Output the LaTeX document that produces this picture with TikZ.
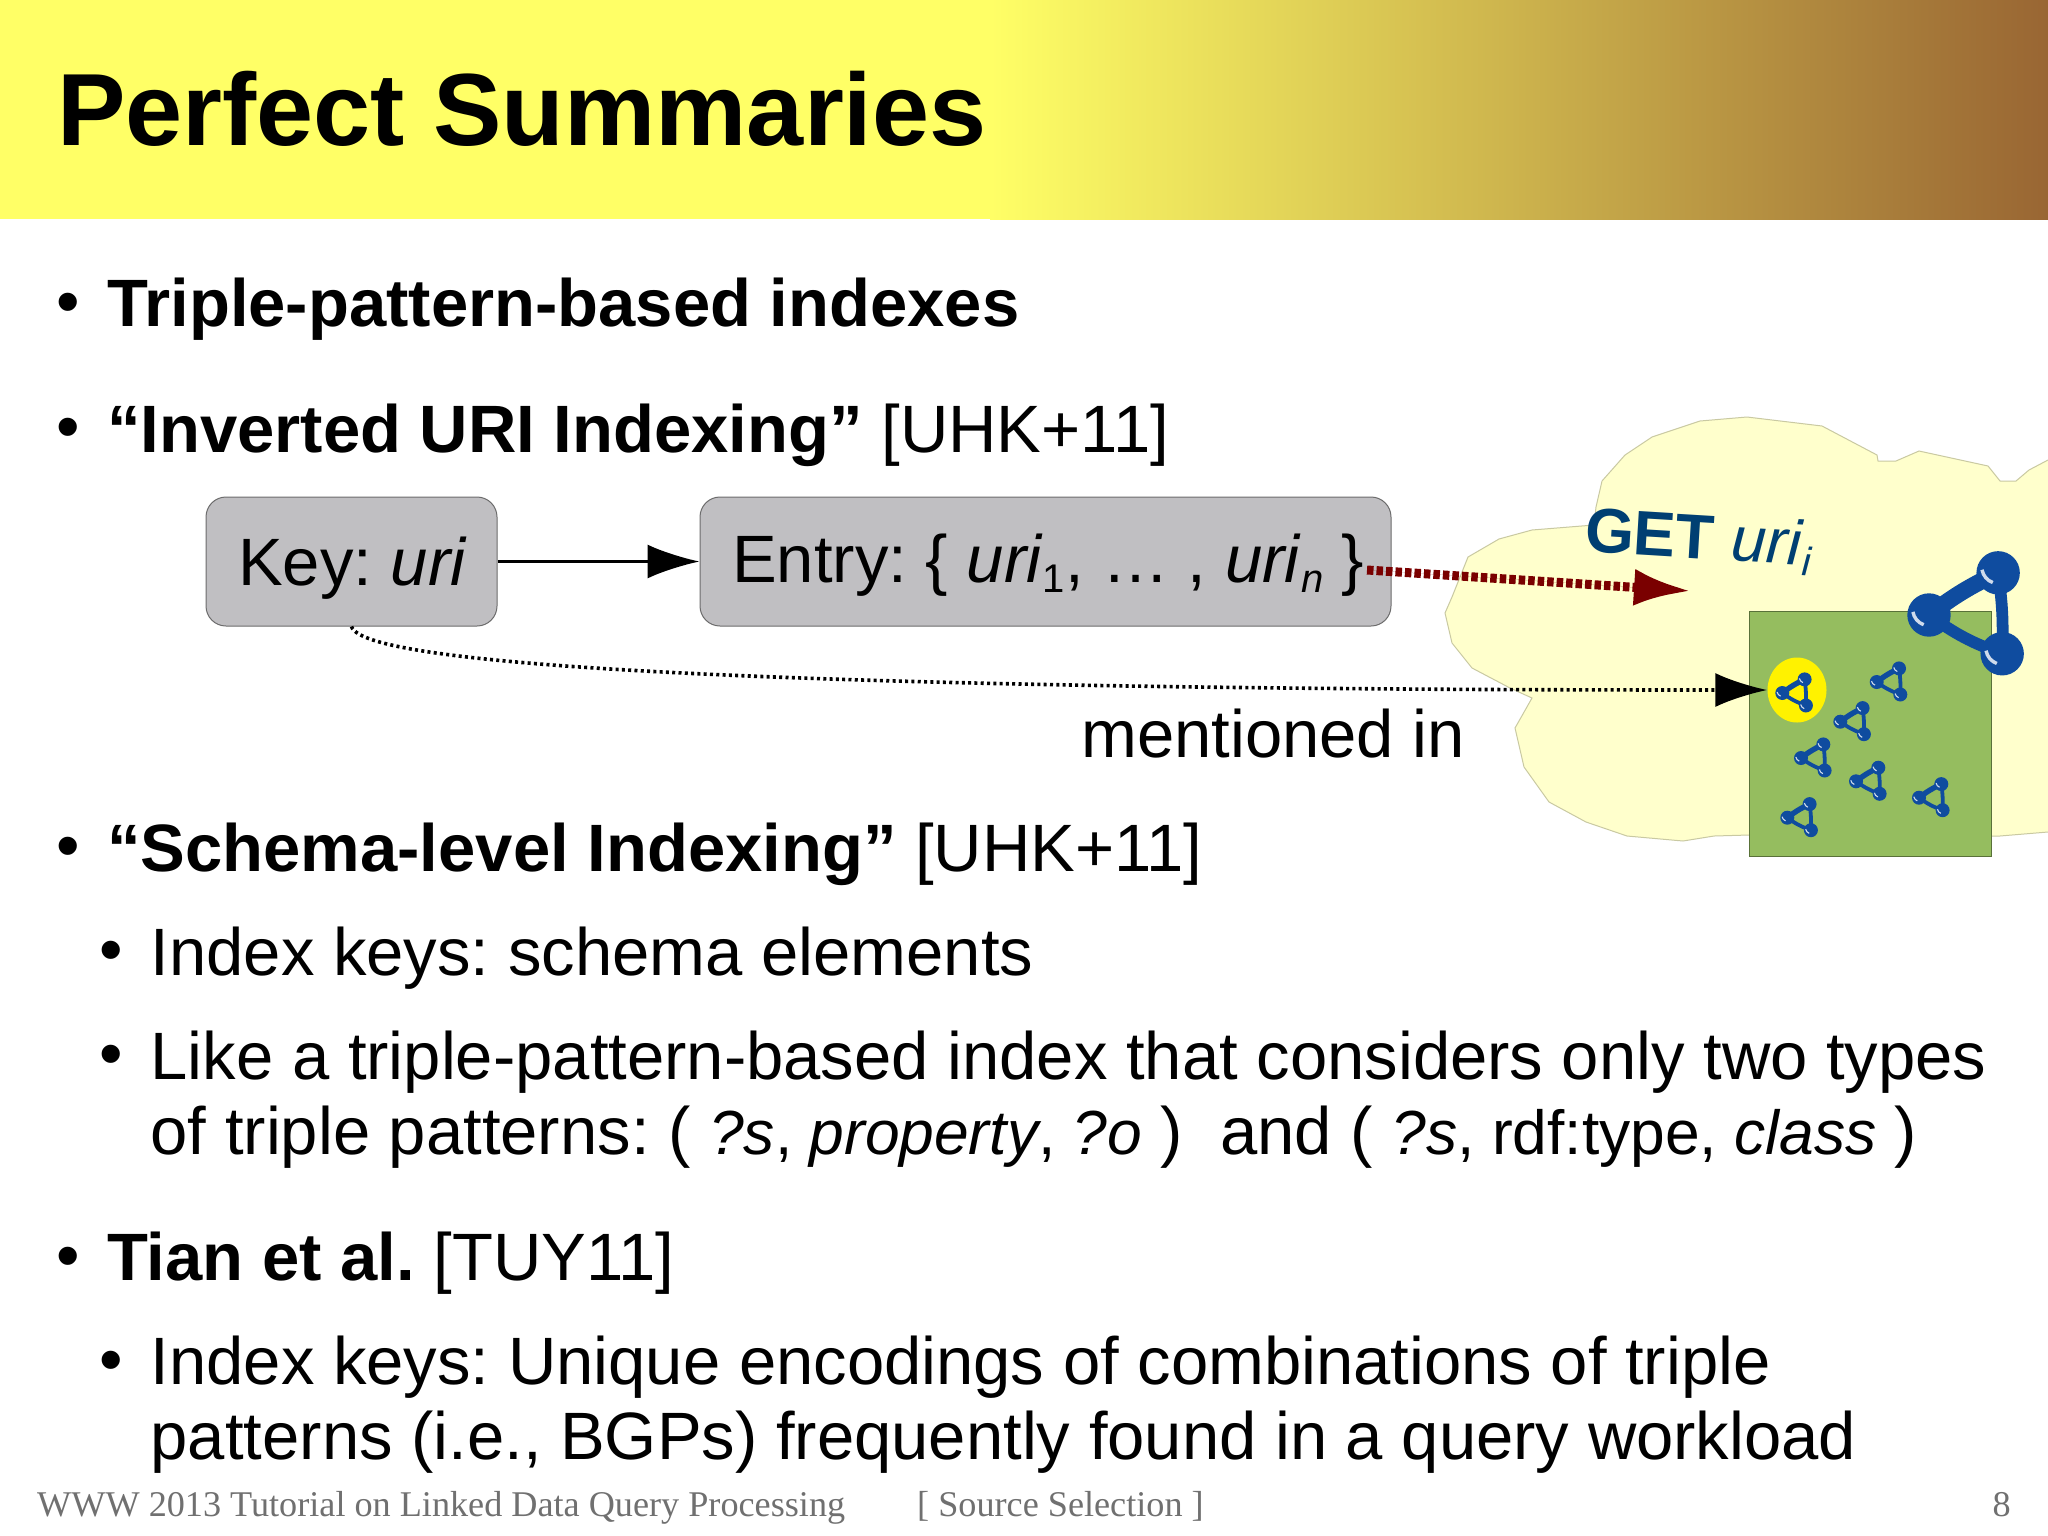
\documentclass[tikz,border=0pt]{standalone}
\usepackage{fontspec}
\setmainfont{Liberation Sans}
\newfontfamily\footfont{Liberation Serif}
\usetikzlibrary{arrows, arrows.meta}
\usetikzlibrary{positioning}
\usetikzlibrary{shapes.geometric}
\definecolor{barYellow}{HTML}{FFFF66}
\definecolor{barBrown}{HTML}{996633}
\definecolor{cloudFill}{HTML}{FFFFCC}
\definecolor{cloudLine}{HTML}{C9C9A2}
\definecolor{boxGray}{HTML}{C0BFC2}
\definecolor{squareGreen}{HTML}{95BD5F}
\definecolor{moleculeBlue}{HTML}{0F4C9F}
\definecolor{getBlue}{HTML}{003F72}
\definecolor{arrowRed}{HTML}{7A0000}
\definecolor{footGray}{HTML}{707070}
\tikzset{
	body/.style={anchor=base west,inner sep=0pt,font=\fontsize{67}{76}\selectfont},
	head/.style={body,font=\fontsize{67}{76}\selectfont\bfseries},
	foot/.style={anchor=base west,inner sep=0pt,text=footGray,font=\fontsize{36.2}{40}\footfont},
	keybox/.style={draw=gray!85!black,fill=boxGray,rounded corners=20pt,line width=1pt},
	solidtip/.style={-{Latex[length=52pt,width=34pt]}},
}
% lowered small index, and the smaller words inside the patterns
\newcommand{\lowindex}[1]{\raisebox{-10pt}{\fontsize{40}{40}\selectfont #1}}
\newcommand{\patternpart}[1]{{\fontsize{62.3}{76}\selectfont #1}}
% one molecule: origin in the left ball
\newcommand{\molecule}[3]{
	\begin{scope}[shift={(#1,#2)},scale=#3]
		\draw[moleculeBlue,line width=#3*5.4pt,line cap=round] (0,0) to[bend left=6] (22.3,-13.6);
		\draw[moleculeBlue,line width=#3*3.8pt,line cap=round] (22.3,-13.6) to[bend left=5] (23.6,12.5) to[bend left=8] (0,0);
		\fill[moleculeBlue] (0,0) circle (7) (22.3,-13.6) circle (7) (23.6,12.5) circle (7);
		\draw[white!80!moleculeBlue,line width=#3*1.1pt] (-5.2,-1) arc (170:110:5.4) (17.1,-14.6) arc (170:110:5.4) (18.4,11.5) arc (170:110:5.4);
	\end{scope}
}
\begin{document}
\frenchspacing
\begin{tikzpicture}[x=1pt,y=-1pt]
	\clip (0,0) rectangle (2048,1535);
	\fill[white] (0,0) rectangle (2048,1535);

	% Title bar
	\fill[barYellow] (0,0) rectangle (990,219);
	\shade[left color=barYellow,right color=barBrown] (990,0) rectangle (2048,219);
	\node[head,font=\fontsize{102.6}{104}\selectfont\bfseries] (title) at (57,145) {Perfect Summaries};

	% Cloud
	\filldraw[fill=cloudFill,draw=cloudLine,line width=1pt] (2060,460) -- (2048,460) -- (2029,470) -- (2016,481) -- (2000,481) -- (1988,466) -- (1919,451) -- (1896,461) -- (1878,461) -- (1877,455) -- (1822,426) -- (1747,417) -- (1700,421) -- (1652,437) -- (1625,455) -- (1602,481) -- (1596,507) -- (1594,525) -- (1532,530) -- (1499,539) -- (1468,557) -- (1452,597) -- (1445,613) -- (1452,643) -- (1472,668) -- (1510,688) -- (1532,698) -- (1515,728) -- (1524,767) -- (1549,802) -- (1586,822) -- (1627,836) -- (1683,841) -- (1714,836) -- (1749,835) -- (1991,836) -- (2000,836) -- (2048,832) -- (2060,832) -- cycle;

	% Green square with molecules
	\filldraw[fill=squareGreen,draw=squareGreen!60!black,line width=1pt] (1749,611) rectangle (1991,856);
	\node[ellipse,fill=yellow,inner sep=0pt,minimum width=59pt,minimum height=65pt] (hit) at (1797,690) {};
	\foreach \mx/\my in {1782.3/693,1876.7/682,1840.3/721.7,1801/758,1856/781.3,1919/797.7,1787.3/817.7}
		{\molecule{\mx}{\my}{1}}
	\molecule{1929}{615}{3.1}

	% Index boxes
	\node[keybox,minimum width=291pt,minimum height=129pt] (key) at (351.5,561.5) {};
	\node[keybox,minimum width=691pt,minimum height=129pt] (entry) at (1045.5,561.5) {};
	\node[body] (keytext) at (238,585) {Key: \textit{uri}};
	\node[body] (entrytext) at (732,582) {Entry: \{ \textit{uri}\lowindex{1}, … , \textit{uri}\lowindex{\textit{n}} \}};
	\draw[solidtip,line width=3pt] (key) -- (entry);

	% Requests
	\coordinate (getstart) at (1367,570);
	\coordinate (getend) at (1691,591);
	\draw[-{Latex[length=57pt,width=37pt]},draw=arrowRed,fill=arrowRed,line width=9pt,dash pattern=on 6.5pt off 3pt] (getstart) -- (getend);
	\node[anchor=center,inner sep=0pt,rotate=-3.5,text=getBlue,font=\fontsize{63}{63}\selectfont] (gettext) at (1699,541) {\textbf{GET} \textit{uri}\lowindex{\textit{i}}};
	\draw[solidtip,line width=3.6pt,dash pattern=on 3pt off 3.3pt] (key.south) .. controls (365,672) and (900,690) .. (hit.west);
	\node[body] (mentioned) at (1081,757) {mentioned in};

	% Bullets
	\foreach \bx/\by [count=\i] in {68/309,68/434,68/853,111/957,111/1061,68/1263,111/1367}
		\node[body,anchor=center] (dot\i) at (\bx,\by) {•};

	% Text lines
	\node[head] (line1) at (107,326) {Triple-pattern-based indexes};
	\node[body] (line2) at (107,452) {\textbf{“Inverted URI Indexing”} [UHK+11]};
	\node[body] (line3) at (107,871) {\textbf{“Schema-level Indexing”} [UHK+11]};
	\node[body] (line4) at (150.5,975) {Index keys: schema elements};
	\node[body] (line5) at (150.5,1079) {Like a triple-pattern-based index that considers only two types};
	\node[body] (line6) at (150.5,1154) {of triple patterns: ( \patternpart{\textit{?s}, \textit{property}, \textit{?o}} )\ \ and ( \patternpart{\textit{?s}, rdf:type, \textit{class}} )};
	\node[body] (line7) at (107,1280) {\textbf{Tian et al.} [TUY11]};
	\node[body] (line8) at (150.5,1384) {Index keys: Unique encodings of combinations of triple};
	\node[body] (line9) at (150.5,1459) {patterns (i.e., BGPs) frequently found in a query workload};

	% Footer
	\node[foot] (foot1) at (37,1516) {WWW 2013 Tutorial on Linked Data Query Processing};
	\node[foot] (foot2) at (917,1516) {[ Source Selection ]};
	\node[foot,anchor=base east] (foot3) at (2011,1516) {8};
\end{tikzpicture}
\end{document}
